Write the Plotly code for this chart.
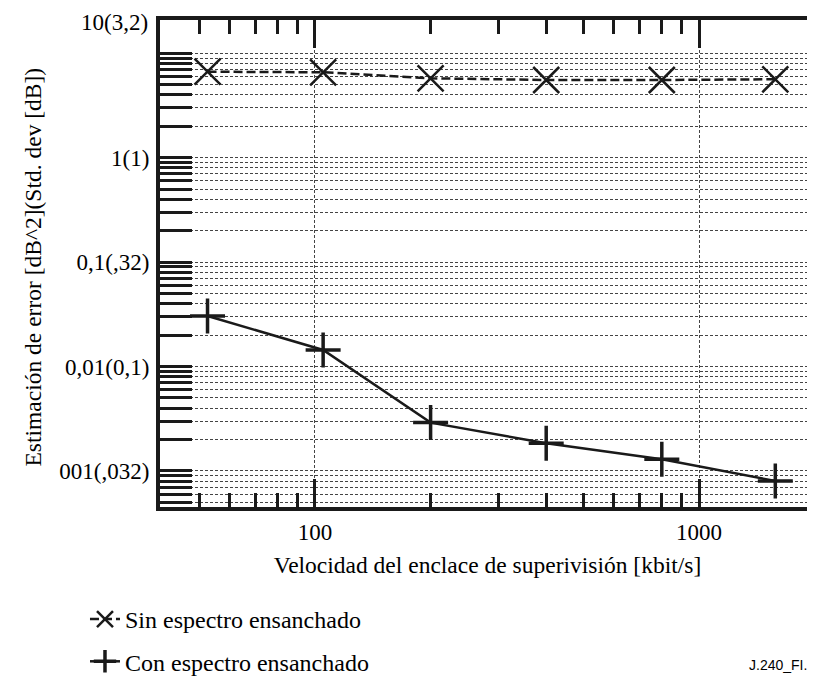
import plotly.graph_objects as go

# ---- data ----
speed_kbit = [52.5, 105, 200, 400, 800, 1580]
sin_ensanchado = [6.66, 6.58, 5.76, 5.55, 5.55, 5.64]
con_ensanchado = [0.0305, 0.0144, 0.0029, 0.00184, 0.00129, 0.0008]

y_decades = [10, 1, 0.1, 0.01, 0.001]
y_decade_labels = ["", "1(1)", "0,1(,32)", "0,01(0,1)", "001(,032)"]
top_label = "10(3,2)"
x_major = [100, 1000]
x_major_labels = ["100", "1000"]
x_minor = [50, 60, 70, 80, 90, 200, 300, 400, 500, 600, 700, 800, 900]
x_title = "Velocidad del enclace de superivisión [kbit/s]"
y_title = "Estimación de error [dB^2](Std. dev [dB])"
series_names = ["Sin espectro ensanchado", "Con espectro ensanchado"]
figure_id = "J.240_FI.2"

SERIF = "Liberation Serif, Times New Roman, serif"
INK = "#1a1a1a"

# y tick values: every 1..9 multiple of each decade inside the range
y_tickvals, y_ticktext = [], []
for d, lab in zip(y_decades, y_decade_labels):
    y_tickvals.append(d)
    y_ticktext.append(lab)
for d in [1, 0.1, 0.01, 0.001, 0.0001]:
    for m in range(2, 10):
        v = d * m
        if 0.00045 < v < 19:
            y_tickvals.append(v)
            y_ticktext.append("")

fig = go.Figure()
fig.add_trace(go.Scatter(
    x=speed_kbit, y=sin_ensanchado, mode="lines+markers",
    name=series_names[0], legendgroup="a",
    line=dict(color=INK, width=2.5, dash="9px,4px"),
    marker=dict(symbol="x-thin", size=26, line=dict(color=INK, width=2.5)),
))
fig.add_trace(go.Scatter(
    x=speed_kbit, y=con_ensanchado, mode="lines+markers",
    name=series_names[1], legendgroup="b",
    line=dict(color=INK, width=2.5),
    marker=dict(symbol="cross-thin", size=25, line=dict(color=INK, width=3.5)),
))

grid = dict(gridcolor="#444", gridwidth=1, griddash="3px,2px")

# the page body has an 8px margin: the figure is sized so that it ends at 815x679
fig.update_layout(
    width=807, height=671,
    margin=dict(l=152, r=0, t=12, b=172, autoexpand=False),
    paper_bgcolor="white", plot_bgcolor="white",
    font=dict(family=SERIF, size=23, color="black"),
    showlegend=True,
    legend=dict(xref="container", yref="container", x=0.0954, y=0.1222,
                xanchor="left", yanchor="top", tracegroupgap=8,
                font=dict(family=SERIF, size=24), bgcolor="rgba(0,0,0,0)"),
    xaxis=dict(
        type="log", range=[1.5964, 3.302], automargin=False,
        tickmode="array", tickvals=x_major, ticktext=x_major_labels,
        ticks="inside", ticklen=28, tickwidth=2.5, tickcolor=INK,
        showline=True, linewidth=4, linecolor=INK, mirror="allticks",
        showgrid=True, **grid,
        minor=dict(tickmode="array", tickvals=x_minor, ticks="inside",
                   ticklen=14, tickwidth=2.5, tickcolor=INK, showgrid=False),
        tickfont=dict(family=SERIF, size=23),
        ticklabelstandoff=1,
        zeroline=False,
        title=dict(text=x_title, font=dict(family=SERIF, size=23.5), standoff=14),
    ),
    yaxis=dict(
        type="log", range=[-3.346, 1.319], automargin=False,
        tickmode="array", tickvals=y_tickvals, ticktext=y_ticktext,
        ticks="inside", ticklen=32, tickwidth=3, tickcolor=INK,
        showline=True, linewidth=4, linecolor=INK, mirror=False,
        showgrid=True, **grid,
        tickfont=dict(family=SERIF, size=23),
        ticklabelstandoff=2,
        zeroline=False,
    ),
    yaxis2=dict(
        type="log", overlaying="y", side="right", matches="y", anchor="x",
        automargin=False,
        tickmode="array", tickvals=y_tickvals, ticktext=["" for _ in y_tickvals],
        ticks="inside", ticklen=30, tickwidth=3, tickcolor=INK,
        showline=False, showgrid=False, showticklabels=False, zeroline=False,
    ),
    annotations=[
        dict(text=y_title, textangle=-90, xref="paper", yref="paper", x=0, y=0.5,
             xanchor="center", yanchor="middle", xshift=-128, yshift=-4,
             showarrow=False, font=dict(family=SERIF, size=23.5)),
        dict(text=top_label, xref="paper", yref="paper", x=0, y=1,
             xanchor="right", yanchor="middle", xshift=-10, yshift=-2, showarrow=False,
             font=dict(family=SERIF, size=23)),
        dict(text=figure_id, xref="paper", yref="paper", x=1, y=0,
             xanchor="left", yanchor="middle", xshift=-68, yshift=-158,
             showarrow=False, font=dict(family="Liberation Sans, Arial, sans-serif", size=14)),
    ],
)

fig.write_html("out.html")
